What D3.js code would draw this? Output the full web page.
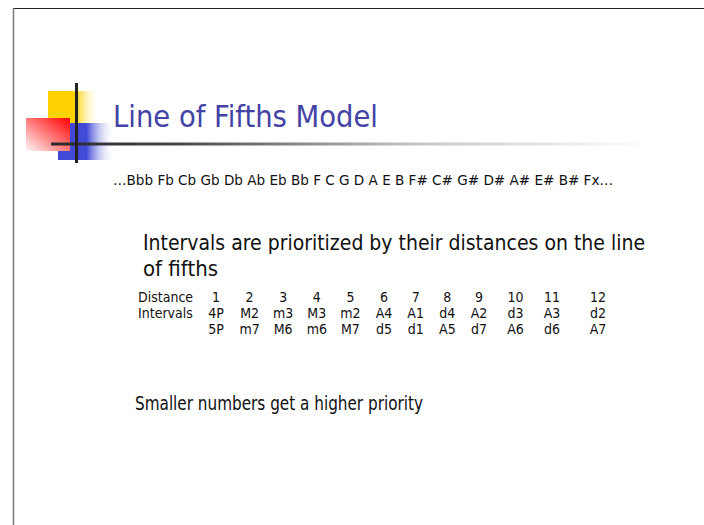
<!DOCTYPE html>
<html>
<head>
	<meta charset="utf-8">
	<title>Line of Fifths Model</title>
	<script src="https://cdn.jsdelivr.net/npm/d3@7"></script>
	<style type="text/css">
		html, body {
			margin: 0;
			padding: 0;
			background: white;
		}
		svg {
			display: block;
			font-family: "DejaVu Sans Condensed", "DejaVu Sans", sans-serif;
		}
	</style>
</head>
<body>

<div id="vis"></div>

<script type="text/javascript">

var width = 704;
var height = 525;

// slide content
var title = "Line of Fifths Model";
var fifths = ["Bbb", "Fb", "Cb", "Gb", "Db", "Ab", "Eb", "Bb", "F", "C", "G", "D", "A", "E", "B",
	"F#", "C#", "G#", "D#", "A#", "E#", "B#", "Fx"];
var bulletMain = ["Intervals are prioritized by their distances on the line", "of fifths"];
var distances = [1, 2, 3, 4, 5, 6, 7, 8, 9, 10, 11, 12];
var intervalsUp = ["4P", "M2", "m3", "M3", "m2", "A4", "A1", "d4", "A2", "d3", "A3", "d2"];
var intervalsDown = ["5P", "m7", "M6", "m6", "M7", "d5", "d1", "A5", "d7", "A6", "d6", "A7"];
var rowLabels = ["Distance", "Intervals", ""];
var bulletLast = "Smaller numbers get a higher priority";

var svg = d3.select("#vis").append("svg")
	.attr("width", width)
	.attr("height", height);

var defs = svg.append("defs");

function grad(id, x1, y1, x2, y2, stops) {
	var g = defs.append("linearGradient")
		.attr("id", id)
		.attr("x1", x1).attr("y1", y1)
		.attr("x2", x2).attr("y2", y2);
	stops.forEach(function(s) {
		g.append("stop")
			.attr("offset", s[0])
			.attr("stop-color", s[1])
			.attr("stop-opacity", s[2] == null ? 1 : s[2]);
	});
}

grad("gYellow", 0, 0, 1, 0, [[0, "#ffd200"], [0.52, "#ffd200"], [1, "#ffffff", 0]]);
grad("gBlue", 0, 0, 1, 0, [[0, "#4149d6"], [0.5, "#4149d6"], [1, "#ffffff", 0]]);
grad("gRed", 1, 0, 0, 1, [[0, "#ff0000"], [0.5, "#ff7a7a"], [1, "#fff6f6"]]);
grad("gRule", 0, 0, 1, 0, [[0, "#2a2a2a"], [0.2, "#444444"], [0.6, "#c4c4c4"], [1, "#ffffff"]]);

// slide frame
svg.append("line")
	.attr("x1", 13).attr("y1", 8.5).attr("x2", width).attr("y2", 8.5)
	.attr("stroke", "#222").attr("stroke-width", 1);
svg.append("line")
	.attr("x1", 13.5).attr("y1", 8).attr("x2", 13.5).attr("y2", height)
	.attr("stroke", "#7a7a7a").attr("stroke-width", 1.5);

// logo
var logo = svg.append("g");
logo.append("rect").attr("x", 48).attr("y", 91).attr("width", 52).attr("height", 32).attr("fill", "url(#gYellow)");
logo.append("rect").attr("x", 58).attr("y", 123).attr("width", 57).attr("height", 37).attr("fill", "url(#gBlue)");
logo.append("rect").attr("x", 26).attr("y", 118).attr("width", 44).attr("height", 33).attr("fill", "url(#gRed)");
logo.append("rect").attr("x", 51).attr("y", 142.5).attr("width", 600).attr("height", 3).attr("fill", "url(#gRule)");
logo.append("rect").attr("x", 75).attr("y", 83).attr("width", 3).attr("height", 80).attr("fill", "#222");

// title
svg.append("text")
	.attr("x", 113).attr("y", 127)
	.attr("font-size", 31)
	.attr("fill", "#4343a6")
	.attr("textLength", 265)
	.attr("lengthAdjust", "spacingAndGlyphs")
	.text(title);

// line of fifths
svg.append("text")
	.attr("x", 113).attr("y", 185)
	.attr("font-size", 14.5)
	.attr("fill", "#111")
	.attr("textLength", 500)
	.attr("lengthAdjust", "spacingAndGlyphs")
	.text("\u2026" + fifths.join(" ") + "\u2026");

// main bullet
svg.selectAll(".bullet")
	.data(bulletMain)
	.join("text")
	.attr("class", "bullet")
	.attr("x", 143)
	.attr("y", function(d, i) { return 250 + i * 26; })
	.attr("font-size", 22)
	.attr("fill", "#111")
	.attr("textLength", function(d, i) { return i == 0 ? 502 : null; })
	.attr("lengthAdjust", "spacingAndGlyphs")
	.text(function(d) { return d; });

// table
var col = d3.scaleLinear()
	.domain([1, 6, 9, 11, 12])
	.range([216, 384, 479, 552, 598]);

var rowY = d3.scalePoint()
	.domain([0, 1, 2])
	.range([302, 334]);

var rows = [distances, intervalsUp, intervalsDown];

var table = svg.append("g")
	.attr("font-size", 14)
	.attr("fill", "#111");

table.selectAll(".rowLabel")
	.data(rowLabels)
	.join("text")
	.attr("class", "rowLabel")
	.attr("x", 138)
	.attr("y", function(d, i) { return rowY(i); })
	.text(function(d) { return d; });

rows.forEach(function(row, r) {
	table.selectAll(".cell" + r)
		.data(row)
		.join("text")
		.attr("class", "cell" + r)
		.attr("x", function(d, i) { return col(distances[i]); })
		.attr("y", rowY(r))
		.attr("text-anchor", "middle")
		.text(function(d) { return d; });
});

// last bullet
svg.append("text")
	.attr("x", 135).attr("y", 410)
	.attr("font-size", 20)
	.attr("fill", "#111")
	.attr("textLength", 288)
	.attr("lengthAdjust", "spacingAndGlyphs")
	.text(bulletLast);

</script>

</body>
</html>
